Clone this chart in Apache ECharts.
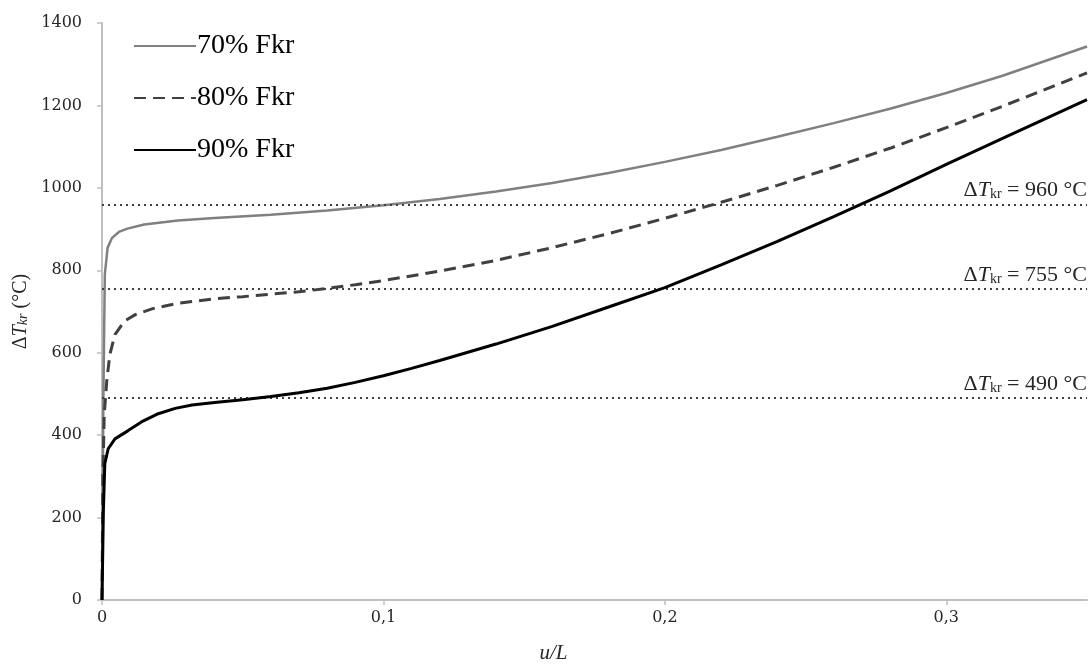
<!DOCTYPE html>
<html>
<head>
<meta charset="utf-8">
<script src="https://cdn.jsdelivr.net/npm/echarts@6/dist/echarts.min.js"></script>
<style>
html,body{margin:0;padding:0;background:#fff;}
#chart{width:1089px;height:669px;}
</style>
</head>
<body>
<div id="chart"></div>
<script>
// ---- data ----
const seriesNames = ['70% Fkr', '80% Fkr', '90% Fkr'];

const x70 = [0, 0.0005, 0.001, 0.002, 0.0035, 0.006, 0.009, 0.015, 0.027, 0.04, 0.06, 0.08, 0.10, 0.12, 0.14, 0.16, 0.18, 0.20, 0.22, 0.24, 0.26, 0.28, 0.30, 0.32, 0.35];
const y70 = [0, 500, 790, 855, 878, 893, 901, 911, 921, 927, 935, 945, 958, 973, 991, 1012, 1036, 1063, 1092, 1124, 1157, 1192, 1230, 1272, 1343];

const x80 = [0, 0.0003, 0.0008, 0.0017, 0.0028, 0.0046, 0.008, 0.012, 0.018, 0.027, 0.04, 0.05, 0.06, 0.07, 0.08, 0.09, 0.10, 0.12, 0.14, 0.16, 0.18, 0.20, 0.22, 0.24, 0.26, 0.28, 0.30, 0.32, 0.35];
const y80 = [0, 300, 450, 532, 596, 644, 677, 693, 707, 720, 731, 736, 742, 748, 756, 765, 775, 798, 824, 855, 889, 926, 965, 1006, 1050, 1096, 1146, 1198, 1279];

const x90 = [0, 0.0005, 0.001, 0.0022, 0.0046, 0.0093, 0.014, 0.02, 0.026, 0.032, 0.04, 0.05, 0.06, 0.07, 0.08, 0.09, 0.10, 0.11, 0.12, 0.14, 0.16, 0.18, 0.20, 0.22, 0.24, 0.26, 0.28, 0.30, 0.32, 0.35];
const y90 = [0, 219, 331, 367, 391, 411, 432, 452, 465, 473, 479, 486, 494, 503, 514, 528, 544, 562, 581, 621, 664, 711, 758, 813, 870, 930, 992, 1057, 1120, 1214];

const refLevels = [960, 755, 490];
const xTicks = [0, 0.1, 0.2, 0.3];
const yTicks = [0, 200, 400, 600, 800, 1000, 1200, 1400];

// ---- chart ----
function zip(xs, ys) { return xs.map((x, i) => [x, ys[i]]); }

const serif = 'Liberation Serif';
const tickFont = 'DejaVu Serif';
const richT = {
  d: { fontFamily: serif, fontSize: 22, color: '#262626', lineHeight: 24, verticalAlign: 'bottom' },
  t: { fontFamily: serif, fontSize: 22, fontStyle: 'italic', color: '#262626', lineHeight: 24, verticalAlign: 'bottom' },
  s: { fontFamily: serif, fontSize: 14, color: '#262626', lineHeight: 12, verticalAlign: 'bottom' }
};
const richY = {
  d: { fontFamily: serif, fontSize: 20, color: '#262626', lineHeight: 22, verticalAlign: 'bottom' },
  t: { fontFamily: serif, fontSize: 20, fontStyle: 'italic', color: '#262626', lineHeight: 22, verticalAlign: 'bottom' },
  s: { fontFamily: serif, fontSize: 14, fontStyle: 'italic', color: '#262626', lineHeight: 11, verticalAlign: 'bottom' }
};

const chart = echarts.init(document.getElementById('chart'), null, { renderer: 'canvas' });
chart.setOption({
  animation: false,
  backgroundColor: '#ffffff',
  grid: { left: 102, right: 2, top: 23, bottom: 65, containLabel: false },
  legend: {
    orient: 'vertical',
    left: 128,
    top: 27,
    itemWidth: 62,
    itemHeight: 20,
    itemGap: 24,
    itemStyle: { opacity: 0 },
    textStyle: { fontFamily: serif, fontSize: 28, color: '#000', padding: [0, 0, 0, -4] },
    data: seriesNames
  },
  xAxis: {
    type: 'value',
    min: 0,
    max: 0.35,
    interval: 0.1,
    name: 'u/L',
    nameLocation: 'middle',
    nameGap: 43,
    nameTextStyle: { fontFamily: serif, fontSize: 21, fontStyle: 'italic', color: '#262626', padding: [0, 82, 0, 0], verticalAlign: 'top' },
    axisLine: { show: true, lineStyle: { color: '#bfbfbf', width: 2 } },
    axisTick: { show: true, length: 5, lineStyle: { color: '#bfbfbf', width: 1.5 }, customValues: xTicks },
    axisLabel: { fontFamily: tickFont, fontSize: 16, color: '#262626', margin: 10, customValues: xTicks,
      formatter: v => String(v).replace('.', ',') },
    splitLine: { show: false }
  },
  yAxis: {
    type: 'value',
    min: 0,
    max: 1400,
    interval: 200,
    name: '{d|Δ}{t|T}{s|kr}{d| (°C)}',
    nameLocation: 'middle',
    nameGap: 70,
    nameRotate: 90,
    nameTextStyle: { rich: richY },
    axisLine: { show: true, lineStyle: { color: '#bfbfbf', width: 2 } },
    axisTick: { show: true, length: 5, lineStyle: { color: '#bfbfbf', width: 1.5 }, customValues: yTicks },
    axisLabel: { fontFamily: tickFont, fontSize: 16, color: '#262626', margin: 20, customValues: yTicks,
      formatter: v => String(v) },
    splitLine: { show: false }
  },
  series: [
    {
      name: seriesNames[0], type: 'line', data: zip(x70, y70), symbol: 'none', showSymbol: false,
      smooth: false, z: 3,
      lineStyle: { color: '#808080', width: 2.5 }, itemStyle: { color: '#808080' },
      markLine: {
        silent: true, symbol: 'none', animation: false,
        lineStyle: { color: '#404040', type: [2, 4], width: 2 },
        label: {
          show: true, position: 'insideEndTop', distance: [0, 3],
          formatter: p => '{d|Δ}{t|T}{s|kr}{d| = ' + p.value + ' °C}',
          rich: richT
        },
        data: refLevels.map(v => ({ yAxis: v }))
      }
    },
    {
      name: seriesNames[1], type: 'line', data: zip(x80, y80), symbol: 'none', showSymbol: false,
      smooth: false, z: 4,
      lineStyle: { color: '#404040', width: 3, type: [12, 7] }, itemStyle: { color: '#404040' }
    },
    {
      name: seriesNames[2], type: 'line', data: zip(x90, y90), symbol: 'none', showSymbol: false,
      smooth: false, z: 5,
      lineStyle: { color: '#000000', width: 3 }, itemStyle: { color: '#000000' }
    }
  ]
});
</script>
</body>
</html>
